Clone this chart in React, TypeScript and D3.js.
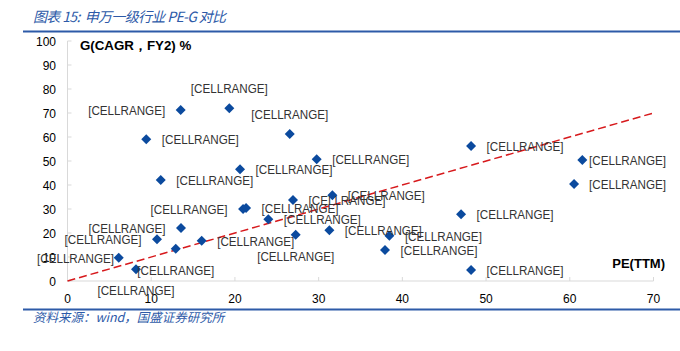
import React from "react";
import * as d3 from "d3";

const titleText = "图表 15:  申万一级行业 PE-G 对比";
const sourceText = "资料来源：wind，国盛证券研究所";
const yTitle = "G(CAGR，FY2) %";
const xTitle = "PE(TTM)";

const xTicks = [0, 10, 20, 30, 40, 50, 60, 70];
const yTicks = [0, 10, 20, 30, 40, 50, 60, 70, 80, 90, 100];

const peValues = [13.52, 19.33, 9.41, 26.55, 29.77, 20.61, 11.14, 48.21, 61.5, 60.51, 47.01, 48.21, 20.97, 21.33, 26.94, 31.64, 23.99, 27.26, 31.28, 38.45, 37.93, 16.03, 13.56, 10.69, 12.93, 8.18, 6.12];
const gValues = [71.25, 71.96, 59.04, 61.25, 50.71, 46.54, 42.08, 56.25, 50.42, 40.42, 27.79, 4.58, 30.0, 30.42, 33.75, 35.71, 25.71, 19.29, 21.13, 18.88, 12.92, 16.79, 22.08, 17.38, 13.46, 4.88, 9.71];
const labelSide = ["l", "t", "r", "t", "r", "r", "r", "r", "r", "r", "r", "r", "l", "r", "r", "r", "r", "b", "r", "r", "r", "r", "l", "l", "b", "b", "l"];
const labelText = peValues.map(() => "[CELLRANGE]");

const refLine = [[0, 0], [70, 70]];

export default function App() {
  const W = 680, H = 351;
  const x = d3.scaleLinear().domain([0, 70]).range([67.5, 653.5]);
  const y = d3.scaleLinear().domain([0, 100]).range([281, 41]);
  const blue = "#2d5aa8";
  const axisColor = "#d9d9d9";
  const font = "'Liberation Sans', Arial, sans-serif";
  const cjk = "'Noto Sans CJK SC', sans-serif";
  const line = d3.line<number[]>().x(d => x(d[0])).y(d => y(d[1]));
  const r = 5;
  const diamond = `M0,${-r}L${r},0L0,${r}L${-r},0Z`;
  const labelW = 77;
  const minX = 37, maxX = 666;

  return (
    <svg width={W} height={H} style={{ position: "absolute", left: 0, top: 0, background: "#fff" }}>
      <text x={33} y={22} fontFamily={cjk} fontStyle="italic" fontSize={14} fill={blue} style={{ whiteSpace: "pre" }} textLength={193} lengthAdjust="spacing">{titleText}</text>
      <line x1={23} x2={680} y1={31.5} y2={31.5} stroke={blue} strokeWidth={2} />
      <line x1={23} x2={680} y1={309.5} y2={309.5} stroke={blue} strokeWidth={2} />
      <text x={33} y={321.5} fontFamily={cjk} fontStyle="italic" fontSize={12.5} fill={blue}>{sourceText}</text>

      <line x1={x(0)} x2={x(0)} y1={y(100)} y2={y(0)} stroke={axisColor} strokeWidth={1} />
      <line x1={x(0)} x2={x(70)} y1={y(0)} y2={y(0)} stroke={axisColor} strokeWidth={1} />
      {yTicks.map(t => (
        <g key={"y" + t}>
          <line x1={x(0)} x2={x(0) + 4} y1={y(t)} y2={y(t)} stroke={axisColor} />
          <text x={56} y={y(t) + 4.5} textAnchor="end" fontFamily={font} fontSize={12} fill="#000">{t}</text>
        </g>
      ))}
      {xTicks.map(t => (
        <g key={"x" + t}>
          <line x1={x(t)} x2={x(t)} y1={y(0)} y2={y(0) - 4} stroke={axisColor} />
          <text x={x(t)} y={303} textAnchor="middle" fontFamily={font} fontSize={12} fill="#000">{t}</text>
        </g>
      ))}

      <text x={80} y={49.5} fontFamily={font} fontWeight="bold" fontSize={13.3} fill="#000">{yTitle}</text>
      <text x={665} y={268} textAnchor="end" fontFamily={font} fontWeight="bold" fontSize={13} fill="#000">{xTitle}</text>

      <path d={line(refLine) || ""} fill="none" stroke="#d7191c" strokeWidth={1.5} strokeDasharray="8,4" />

      {peValues.map((pe, i) => {
        const px = x(pe), py = y(gValues[i]);
        return <path key={"p" + i} d={diamond} transform={`translate(${px},${py})`} fill="#0b4a9e" />;
      })}
      {peValues.map((pe, i) => {
        const px = x(pe), py = y(gValues[i]);
        const s = labelSide[i];
        let left = px - labelW / 2, ty = py + 5;
        if (s === "r") left = px + 15.5;
        else if (s === "l") left = px - 15.5 - labelW;
        else if (s === "t") ty = py - 15;
        else if (s === "b") ty = py + 26;
        left = Math.max(minX, Math.min(maxX - labelW, left));
        return (
          <text key={"l" + i} x={left} y={ty} textAnchor="start" textLength={labelW} lengthAdjust="spacingAndGlyphs" fontFamily={font} fontSize={12.3} fill="#333">{labelText[i]}</text>
        );
      })}
    </svg>
  );
}
